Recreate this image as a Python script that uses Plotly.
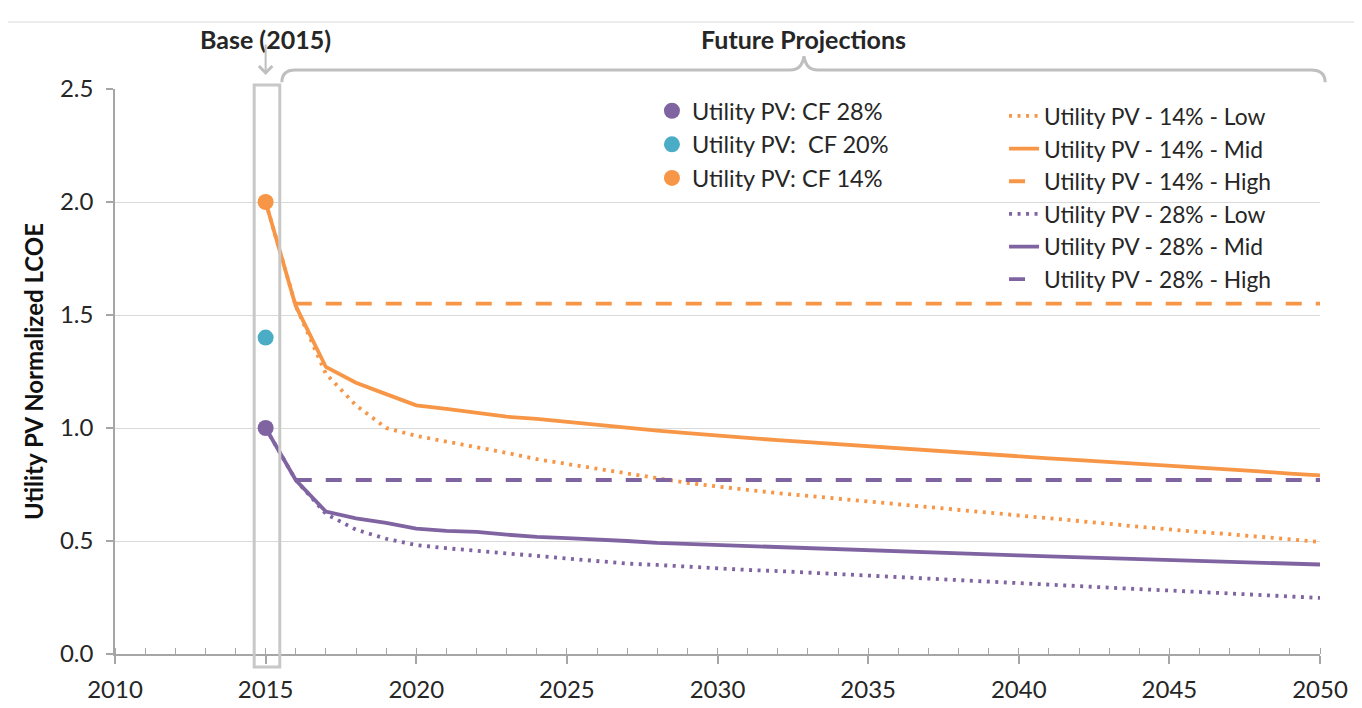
import plotly.graph_objects as go

years = list(range(2015, 2051))

lcoe_14_low = [2.00, 1.54, 1.24, 1.10, 1.00, 0.965, 0.94, 0.917, 0.89, 0.862,
               0.84, 0.82, 0.80, 0.778, 0.757, 0.74, 0.726, 0.712, 0.70, 0.686,
               0.672, 0.66, 0.648, 0.637, 0.626, 0.615, 0.602, 0.589, 0.576, 0.563,
               0.55, 0.54, 0.53, 0.518, 0.507, 0.496]
lcoe_14_mid = [2.00, 1.54, 1.27, 1.20, 1.15, 1.10, 1.085, 1.066, 1.05, 1.04,
               1.026, 1.013, 1.00, 0.988, 0.977, 0.965, 0.956, 0.946, 0.937, 0.926,
               0.916, 0.907, 0.898, 0.889, 0.880, 0.872, 0.866, 0.858, 0.850, 0.842,
               0.836, 0.828, 0.818, 0.808, 0.798, 0.790]
lcoe_28_low = [1.00, 0.77, 0.62, 0.55, 0.51, 0.482, 0.468, 0.457, 0.446, 0.434,
               0.422, 0.41, 0.40, 0.394, 0.386, 0.38, 0.372, 0.367, 0.36, 0.353,
               0.346, 0.339, 0.332, 0.325, 0.318, 0.311, 0.305, 0.299, 0.293, 0.287,
               0.281, 0.274, 0.267, 0.26, 0.254, 0.248]
lcoe_28_mid = [1.00, 0.77, 0.63, 0.60, 0.58, 0.555, 0.545, 0.54, 0.528, 0.518,
               0.513, 0.508, 0.50, 0.492, 0.487, 0.483, 0.478, 0.474, 0.469, 0.465,
               0.46, 0.455, 0.45, 0.445, 0.44, 0.436, 0.432, 0.428, 0.424, 0.42,
               0.416, 0.412, 0.408, 0.404, 0.40, 0.396]

high_years = [2016, 2050]
lcoe_14_high = [1.55, 1.55]
lcoe_28_high = [0.77, 0.77]

base_year = 2015
base_labels = ["Utility PV: CF 28%", "Utility PV:  CF 20%", "Utility PV: CF 14%"]
base_values = [1.00, 1.40, 2.00]

ORANGE = "#F79646"
PURPLE = "#8064A2"
TEAL = "#4BACC6"
FONT = "Lato, 'Open Sans', sans-serif"
TXT = "#262626"

X0, X1 = 2010, 2050


def xp(year):
    # year -> paper x (axis range 2010..2050 over full domain)
    return (year - X0) / (X1 - X0)


fig = go.Figure()

line_series = [
    ("Utility PV - 14% - Low", years, lcoe_14_low, ORANGE, "3px,5.5px"),
    ("Utility PV - 14% - Mid", years, lcoe_14_mid, ORANGE, "solid"),
    ("Utility PV - 14% - High", high_years, lcoe_14_high, ORANGE, "16px,14px"),
    ("Utility PV - 28% - Low", years, lcoe_28_low, PURPLE, "3px,5.5px"),
    ("Utility PV - 28% - Mid", years, lcoe_28_mid, PURPLE, "solid"),
    ("Utility PV - 28% - High", high_years, lcoe_28_high, PURPLE, "16px,14px"),
]
for name, xs, ys, color, dash in line_series:
    fig.add_trace(go.Scatter(x=xs, y=ys, mode="lines", name=name,
                             line=dict(color=color, width=3.8, dash=dash),
                             legend="legend2"))

for label, val, color in zip(base_labels, base_values, [PURPLE, TEAL, ORANGE]):
    fig.add_trace(go.Scatter(x=[base_year], y=[val], mode="markers", name=label,
                             marker=dict(color=color, size=16),
                             legend="legend"))

# outer chart border
fig.add_shape(type="rect", xref="paper", yref="paper",
              x0=-0.093, x1=1.032, y0=-0.12, y1=1.1186,
              line=dict(color="#D9D9D9", width=1.2), layer="below")

# box around the base year
fig.add_shape(type="rect", xref="paper", yref="paper",
              x0=xp(2014.62), x1=xp(2015.47), y0=-0.023, y1=1.007,
              line=dict(color="#C8C8C8", width=3))

# bracket over the projection years
yb, yt, yp = 1.0336, 1.012, 1.058
bracket = (f"M {xp(2015.54)},{yt} Q {xp(2015.54)},{yb} {xp(2015.98)},{yb} "
           f"L {xp(2032.42)},{yb} Q {xp(2032.8)},{yb} {xp(2032.87)},{yp} "
           f"Q {xp(2032.94)},{yb} {xp(2033.32)},{yb} "
           f"L {xp(2049.7)},{yb} Q {xp(2050.17)},{yb} {xp(2050.17)},{yt}")
fig.add_shape(type="path", xref="paper", yref="paper", path=bracket,
              line=dict(color="#BFBFBF", width=3))

fig.add_annotation(x=2015, y=1.1186, xref="x", yref="paper", text="<b>Base (2015)</b>",
                   showarrow=False, font=dict(family=FONT, size=25, color=TXT))
fig.add_annotation(x=2032.85, y=1.1186, xref="x", yref="paper",
                   text="<b>Future Projections</b>",
                   showarrow=False, font=dict(family=FONT, size=25, color=TXT))
fig.add_annotation(x=2015, y=1.025, xref="x", yref="paper", text="",
                   showarrow=True, ax=0, ay=-32, arrowhead=4, arrowsize=1.3,
                   arrowwidth=2, arrowcolor="#BFBFBF")

legend_common = dict(bgcolor="rgba(0,0,0,0)", tracegroupgap=0,
                     xanchor="left", yanchor="top")
fig.update_layout(
    width=1354, height=700,
    margin=dict(l=107, r=42, t=81, b=54),
    paper_bgcolor="white", plot_bgcolor="white",
    font=dict(family=FONT, size=23.5, color=TXT),
    legend=dict(x=0.4456, y=1.0, font=dict(family=FONT, size=23.5, color=TXT),
                **legend_common),
    legend2=dict(x=0.7378, y=0.99, font=dict(family=FONT, size=22.8, color=TXT),
                 **legend_common),
    xaxis=dict(range=[X0, X1], dtick=5, tick0=2010, showgrid=False, zeroline=False,
               automargin=False,
               showline=True, linecolor="#A6A6A6", linewidth=1.5,
               ticks="outside", ticklen=8, tickwidth=1.5, tickcolor="#A6A6A6",
               ticklabelstandoff=5,
               minor=dict(dtick=1, ticks="inside", ticklen=6, tickwidth=1.2,
                          tickcolor="#A6A6A6", showgrid=False),
               tickfont=dict(family=FONT, size=24, color=TXT)),
    yaxis=dict(range=[0, 2.5], dtick=0.5, tickformat=".1f", showgrid=True,
               gridcolor="#D9D9D9", gridwidth=1.2, zeroline=False,
               automargin=False,
               showline=True, linecolor="#A6A6A6", linewidth=1.5,
               ticks="outside", ticklen=7, tickwidth=1.5, tickcolor="#A6A6A6",
               ticklabelstandoff=8,
               tickfont=dict(family=FONT, size=24, color=TXT),
               title=dict(text="<b>Utility PV Normalized LCOE</b>", standoff=10,
                          font=dict(family=FONT, size=24, color="#111111"))),
)

fig.write_html("out.html")
